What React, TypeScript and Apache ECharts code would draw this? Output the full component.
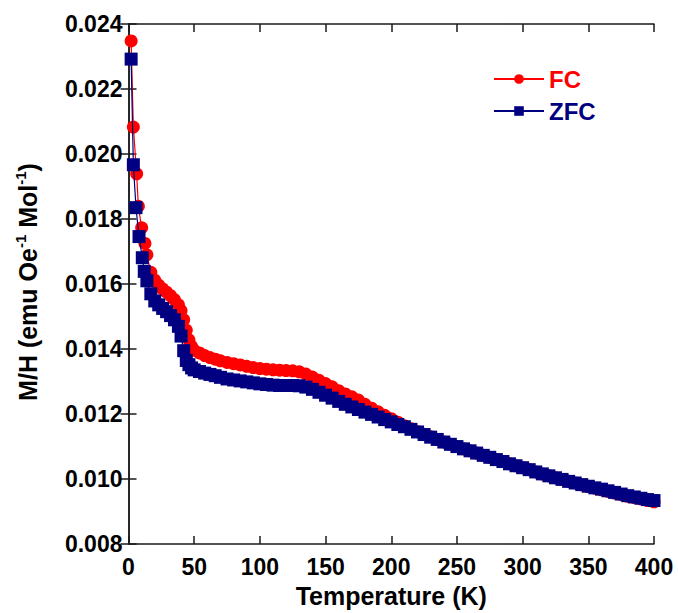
import React, { useEffect, useRef } from "react";
import * as echarts from "echarts";

// Low-temperature discrete points
const fcLowT = [2, 3.7, 6.2, 7.5, 10, 12.5];
const fcLowV = [0.02348, 0.02083, 0.01939, 0.01839, 0.01773, 0.01725];
const zfcLowT = [2, 3.7, 5.7, 8, 10.5, 12];
const zfcLowV = [0.02292, 0.01967, 0.01835, 0.01746, 0.01681, 0.01639];

// Dense measurement region
const denseT = [
  14, 17, 20, 23, 26, 29, 32, 35, 38, 40, 42, 44, 46, 48, 50, 54, 58, 62, 66, 70,
  75, 80, 85, 90, 95, 100, 105, 110, 115, 120, 125, 130, 135, 140, 145, 150, 155, 160,
  165, 170, 175, 180, 185, 190, 195, 200, 205, 210, 215, 220, 225, 230, 235, 240, 245,
  250, 255, 260, 265, 270, 275, 280, 285, 290, 295, 300, 305, 310, 315, 320, 325, 330,
  335, 340, 345, 350, 355, 360, 365, 370, 375, 380, 385, 390, 395, 400,
];
const fcDense = [
  0.0169, 0.01636, 0.01612, 0.01597, 0.01585, 0.01575, 0.01564, 0.01552, 0.01536, 0.01518,
  0.0149, 0.01458, 0.01428, 0.01408, 0.01396, 0.01388, 0.0138, 0.01374, 0.01369, 0.01364,
  0.01359, 0.01355, 0.01351, 0.01347, 0.01343, 0.0134, 0.01338, 0.01336, 0.01335, 0.01334,
  0.01333, 0.0133, 0.01323, 0.01314, 0.01304, 0.01294, 0.01284, 0.01272, 0.01262, 0.01253,
  0.01243, 0.0123, 0.01218, 0.01207, 0.01196, 0.01186, 0.01175, 0.01164, 0.01155, 0.01146,
  0.01138, 0.0113, 0.01122, 0.01114, 0.01107, 0.011, 0.01093, 0.01087, 0.0108, 0.01073,
  0.01067, 0.0106, 0.01054, 0.01047, 0.01041, 0.01035, 0.01029, 0.01022, 0.01016, 0.0101,
  0.01004, 0.00999, 0.00993, 0.00988, 0.00982, 0.00977, 0.00972, 0.00967, 0.00962, 0.00957,
  0.00952, 0.00947, 0.00943, 0.00939, 0.00934, 0.0093,
];
const zfcDense = [
  0.0161, 0.0157, 0.01548, 0.01536, 0.01525, 0.01515, 0.01503, 0.0149, 0.0147, 0.0144,
  0.01395, 0.01365, 0.01352, 0.01342, 0.01336, 0.01331, 0.01326, 0.01322, 0.01318, 0.01313,
  0.01308, 0.01305, 0.01302, 0.01299, 0.01296, 0.01293, 0.01291, 0.01289, 0.01288, 0.01288,
  0.01288, 0.01287, 0.01283, 0.01276, 0.01267, 0.01258, 0.01249, 0.01239, 0.0123, 0.01222,
  0.01214, 0.01206, 0.01199, 0.01191, 0.01183, 0.01176, 0.01168, 0.01161, 0.01153, 0.01145,
  0.01137, 0.01129, 0.01122, 0.01114, 0.01107, 0.011, 0.01093, 0.01087, 0.0108, 0.01073,
  0.01067, 0.0106, 0.01054, 0.01047, 0.01041, 0.01035, 0.01029, 0.01022, 0.01016, 0.0101,
  0.01004, 0.00999, 0.00993, 0.00988, 0.00983, 0.00978, 0.00973, 0.00969, 0.00964, 0.00959,
  0.00954, 0.00949, 0.00945, 0.00941, 0.00937, 0.00934,
];

const xTicks = { min: 0, max: 400, interval: 50 };
const yTicks = { min: 0.008, max: 0.024, interval: 0.002 };

const FONT = "'Liberation Sans', Arial, Helvetica, sans-serif";
const RED = "#ff0000";
const NAVY = "#000080";
const AXIS_COLOR = "#1a1a1a";

function pairs(ts: number[], vs: number[]) {
  return ts.map((t, i) => [t, vs[i]]);
}

export default function App() {
  const ref = useRef<HTMLDivElement>(null);
  useEffect(() => {
    if (!ref.current) return;
    const chart = echarts.init(ref.current, undefined, { renderer: "svg" });
    const fcData = pairs(fcLowT, fcLowV).concat(pairs(denseT, fcDense));
    const zfcData = pairs(zfcLowT, zfcLowV).concat(pairs(denseT, zfcDense));

    const axisLine = { show: true, lineStyle: { color: AXIS_COLOR, width: 1.5 } };
    const axisTick = { show: true, inside: true, length: 8, lineStyle: { color: AXIS_COLOR, width: 1.5 } };

    chart.setOption({
      animation: false,
      backgroundColor: "#ffffff",
      grid: { left: 128.5, right: 24, top: 24, bottom: 65, containLabel: false },
      legend: {
        orient: "vertical",
        left: 488,
        top: 62,
        itemWidth: 50,
        itemHeight: 12,
        itemGap: 8,
        textStyle: { fontFamily: FONT, fontWeight: "bold", fontSize: 24, lineHeight: 24 },
        data: [
          { name: "FC", textStyle: { color: RED } },
          { name: "ZFC", textStyle: { color: NAVY } },
        ],
      },
      xAxis: [
        {
          type: "value",
          ...xTicks,
          position: "bottom",
          axisLine,
          axisTick,
          splitLine: { show: false },
          axisLabel: {
            color: "#000",
            fontFamily: FONT,
            fontWeight: "bold",
            fontSize: 23,
            margin: 11,
          },
          name: "Temperature (K)",
          nameLocation: "middle",
          nameGap: 36,
          nameTextStyle: { color: "#000", fontFamily: FONT, fontWeight: "bold", fontSize: 25 },
        },
        {
          type: "value",
          ...xTicks,
          position: "top",
          axisLine,
          axisTick,
          splitLine: { show: false },
          axisLabel: { show: false },
        },
      ],
      yAxis: [
        {
          type: "value",
          ...yTicks,
          position: "left",
          axisLine,
          axisTick,
          splitLine: { show: false },
          axisLabel: {
            color: "#000",
            fontFamily: FONT,
            fontWeight: "bold",
            fontSize: 23,
            margin: 6,
            formatter: (v: number) => v.toFixed(3),
          },
        },
        {
          type: "value",
          ...yTicks,
          position: "right",
          axisLine,
          axisTick,
          splitLine: { show: false },
          axisLabel: { show: false },
        },
      ],
      graphic: [
        {
          type: "text",
          x: 28,
          y: 282,
          rotation: Math.PI / 2,
          style: {
            text: "{a|M/H (emu Oe}{s|-1}{a| Mol}{s|-1}{a|)}",
            align: "center",
            verticalAlign: "middle",
            rich: {
              a: { fontFamily: FONT, fontWeight: "bold", fontSize: 25, lineHeight: 30, fill: "#000" },
              s: { fontFamily: FONT, fontWeight: "bold", fontSize: 15, lineHeight: 18, verticalAlign: "top", fill: "#000" },
            },
          },
        },
      ],
      series: [
        {
          name: "FC",
          type: "line",
          xAxisIndex: 0,
          yAxisIndex: 0,
          data: fcData,
          symbol: "circle",
          symbolSize: 13,
          itemStyle: { color: RED },
          lineStyle: { color: RED, width: 1.2 },
          z: 2,
        },
        {
          name: "ZFC",
          type: "line",
          xAxisIndex: 0,
          yAxisIndex: 0,
          data: zfcData,
          symbol: "rect",
          symbolSize: 13,
          itemStyle: { color: NAVY },
          lineStyle: { color: NAVY, width: 1.2 },
          z: 3,
        },
      ],
    });
    return () => chart.dispose();
  }, []);
  return (
    <div
      ref={ref}
      style={{ position: "fixed", left: 0, top: 0, width: 678, height: 613, background: "#fff" }}
    />
  );
}
